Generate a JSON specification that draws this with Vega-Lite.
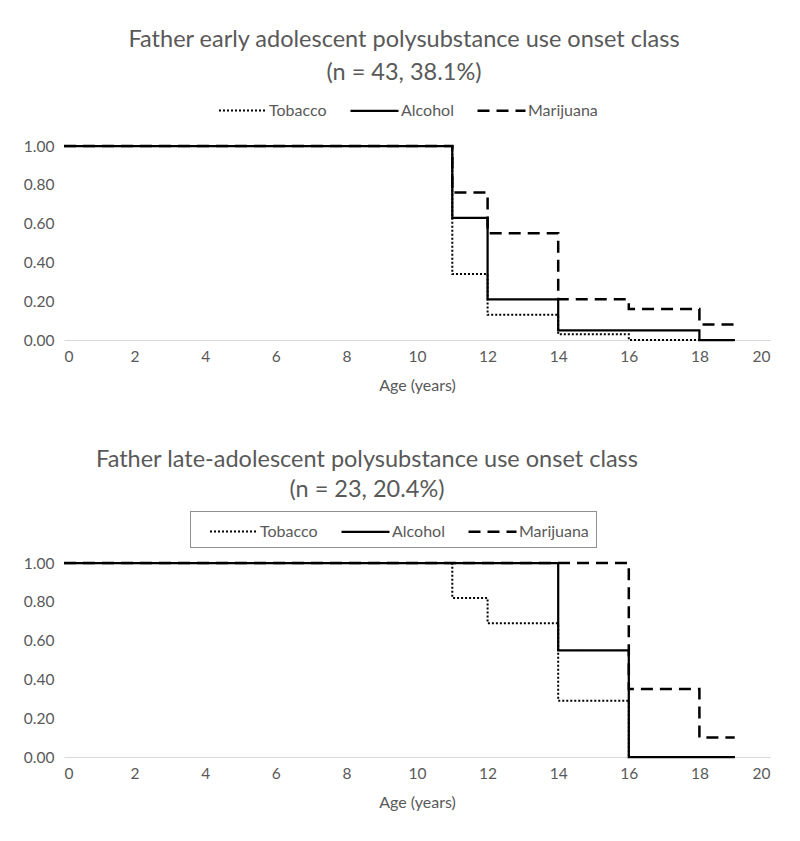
{
  "$schema": "https://vega.github.io/schema/vega-lite/v6.json",
  "padding": {"left": 23, "top": 27, "right": 10, "bottom": 10},
  "background": "white",
  "config": {
    "font": "Lato",
    "view": {"stroke": null},
    "axis": {"labelFont": "Lato", "labelFontSize": 15.5, "labelColor": "#595959", "titleColor": "#595959", "titleFont": "Lato", "titleFontSize": 16, "titleFontWeight": "normal", "grid": false, "ticks": false},
    "title": {"fontSize": 23.5, "fontWeight": "normal", "color": "#595959", "font": "Lato", "lineHeight": 33, "anchor": "middle", "frame": "group"},
    "legend": {"orient": "none", "direction": "horizontal", "title": null, "labelFont": "Lato", "labelFontSize": 16, "labelColor": "#595959", "labelOffset": 37, "columnPadding": 10, "symbolType": "M0,0H4", "symbolSize": 576, "symbolStrokeColor": "black", "symbolStrokeWidth": 2.5}
  },
  "datasets": {
    "early": [
      {"substance": "Tobacco", "age": 0, "survival": 1},
      {"substance": "Tobacco", "age": 11, "survival": 0.34},
      {"substance": "Tobacco", "age": 12, "survival": 0.13},
      {"substance": "Tobacco", "age": 14, "survival": 0.03},
      {"substance": "Tobacco", "age": 16, "survival": 0},
      {"substance": "Tobacco", "age": 19, "survival": 0},
      {"substance": "Marijuana", "age": 0, "survival": 1},
      {"substance": "Marijuana", "age": 11, "survival": 0.76},
      {"substance": "Marijuana", "age": 12, "survival": 0.55},
      {"substance": "Marijuana", "age": 14, "survival": 0.21},
      {"substance": "Marijuana", "age": 16, "survival": 0.16},
      {"substance": "Marijuana", "age": 18, "survival": 0.08},
      {"substance": "Marijuana", "age": 19, "survival": 0.08},
      {"substance": "Alcohol", "age": 0, "survival": 1},
      {"substance": "Alcohol", "age": 11, "survival": 0.63},
      {"substance": "Alcohol", "age": 12, "survival": 0.21},
      {"substance": "Alcohol", "age": 14, "survival": 0.05},
      {"substance": "Alcohol", "age": 18, "survival": 0},
      {"substance": "Alcohol", "age": 19, "survival": 0}
    ],
    "late": [
      {"substance": "Tobacco", "age": 0, "survival": 1},
      {"substance": "Tobacco", "age": 11, "survival": 0.82},
      {"substance": "Tobacco", "age": 12, "survival": 0.69},
      {"substance": "Tobacco", "age": 14, "survival": 0.29},
      {"substance": "Tobacco", "age": 16, "survival": 0},
      {"substance": "Tobacco", "age": 19, "survival": 0},
      {"substance": "Marijuana", "age": 0, "survival": 1},
      {"substance": "Marijuana", "age": 16, "survival": 0.35},
      {"substance": "Marijuana", "age": 18, "survival": 0.1},
      {"substance": "Marijuana", "age": 19, "survival": 0.1},
      {"substance": "Alcohol", "age": 0, "survival": 1},
      {"substance": "Alcohol", "age": 14, "survival": 0.55},
      {"substance": "Alcohol", "age": 16, "survival": 0},
      {"substance": "Alcohol", "age": 19, "survival": 0}
    ]
  },
  "resolve": {"scale": {"strokeDash": "independent", "strokeWidth": "independent"}, "legend": {"strokeDash": "independent", "strokeWidth": "independent"}},
  "spacing": 54,
  "vconcat": [
    {
      "data": {"name": "early"},
      "title": {"text": ["Father early adolescent polysubstance use onset class", "(n = 43, 38.1%)"], "offset": 13, "dx": -13},
      "width": 706,
      "height": 194,
      "mark": {"type": "line", "interpolate": "step-after", "color": "black"},
      "encoding": {
        "x": {"field": "age", "type": "quantitative", "scale": {"domain": [0, 20], "nice": false}, "axis": {"values": [0, 2, 4, 6, 8, 10, 12, 14, 16, 18, 20], "title": "Age (years)", "domainColor": "#d9d9d9", "labelPadding": 9, "titlePadding": 13}},
        "y": {"field": "survival", "type": "quantitative", "scale": {"domain": [0, 1]}, "axis": {"values": [0, 0.2, 0.4, 0.6, 0.8, 1], "format": ".2f", "title": null, "domain": false, "labelPadding": 10}},
        "strokeDash": {"field": "substance", "type": "nominal", "sort": null, "scale": {"domain": ["Tobacco", "Alcohol", "Marijuana"], "range": [[2, 2], [1, 0], [12, 7]]}, "legend": {"legendX": 142, "legendY": -49, "padding": 0}},
        "strokeWidth": {"field": "substance", "type": "nominal", "scale": {"domain": ["Tobacco", "Alcohol", "Marijuana"], "range": [2, 2.5, 3.5]}, "legend": null}
      }
    },
    {
      "data": {"name": "late"},
      "title": {"text": ["Father late-adolescent polysubstance use onset class", "(n = 23, 20.4%)"], "offset": 9, "dx": -50, "lineHeight": 30},
      "width": 706,
      "height": 194,
      "mark": {"type": "line", "interpolate": "step-after", "color": "black"},
      "encoding": {
        "x": {"field": "age", "type": "quantitative", "scale": {"domain": [0, 20], "nice": false}, "axis": {"values": [0, 2, 4, 6, 8, 10, 12, 14, 16, 18, 20], "title": "Age (years)", "domainColor": "#d9d9d9", "labelPadding": 9, "titlePadding": 13}},
        "y": {"field": "survival", "type": "quantitative", "scale": {"domain": [0, 1]}, "axis": {"values": [0, 0.2, 0.4, 0.6, 0.8, 1], "format": ".2f", "title": null, "domain": false, "labelPadding": 10}},
        "strokeDash": {"field": "substance", "type": "nominal", "sort": null, "scale": {"domain": ["Tobacco", "Alcohol", "Marijuana"], "range": [[2, 2], [1, 0], [12, 7]]}, "legend": {"legendX": 126, "legendY": -52, "padding": 7, "strokeColor": "#222222", "encode": {"legend": {"update": {"strokeDash": {"value": [1, 1]}}}}}},
        "strokeWidth": {"field": "substance", "type": "nominal", "scale": {"domain": ["Tobacco", "Alcohol", "Marijuana"], "range": [2, 2.5, 3.5]}, "legend": null}
      }
    }
  ]
}
